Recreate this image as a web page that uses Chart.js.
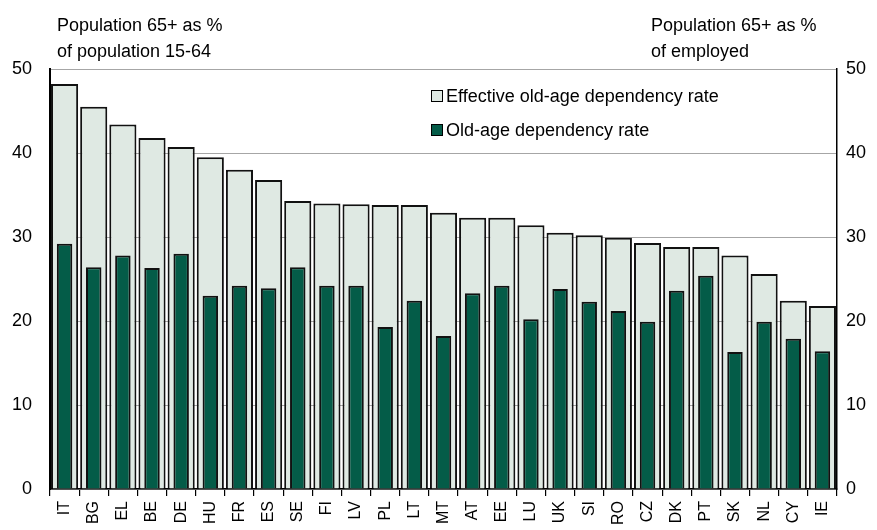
<!DOCTYPE html>
<html>
<head>
<meta charset="utf-8">
<script src="https://cdn.jsdelivr.net/npm/chart.js@4/dist/chart.umd.min.js"></script>
<style>
  body { margin: 0; background: #fff; }
  #wrap { position: relative; width: 877px; height: 530px; font-family: "Liberation Sans", Arial, sans-serif; color: #000; }
  .title { position: absolute; font-size: 18px; line-height: 26px; white-space: nowrap; }
  .leg { position: absolute; font-size: 18px; line-height: 20px; white-space: nowrap; }
  .leg span { display: inline-block; width: 10px; height: 10px; border: 1px solid #000; margin-right: 3px; vertical-align: 0px; }
</style>
</head>
<body>
<div id="wrap">
  <canvas id="c" width="877" height="530"></canvas>
  <div class="title" style="left:57px; top:12px;">Population 65+ as %<br>of population 15-64</div>
  <div class="title" style="left:651px; top:12px;">Population 65+ as %<br>of employed</div>
  <div class="leg" style="left:431px; top:86px;"><span style="background:#dfe9e3"></span>Effective old-age dependency rate</div>
  <div class="leg" style="left:431px; top:120px;"><span style="background:#045c48"></span>Old-age dependency rate</div>
</div>
<script>
// pays
const countries = ["IT","BG","EL","BE","DE","HU","FR","ES","SE","FI","LV","PL","LT","MT","AT","EE","LU","UK","SI","RO","CZ","DK","PT","SK","NL","CY","IE"];
// 65+ en % des actifs occupés
const effectiveRate = [48.2,45.5,43.4,41.8,40.7,39.5,38.0,36.8,34.3,34.0,33.9,33.8,33.8,32.9,32.3,32.3,31.4,30.5,30.2,29.9,29.3,28.8,28.8,27.8,25.6,22.4,21.8];
// 65+ en % de la population 15-64
const oldAgeRate = [29.2,26.4,27.8,26.3,28.0,23.0,24.2,23.9,26.4,24.2,24.2,19.3,22.4,18.2,23.3,24.2,20.2,23.8,22.3,21.2,19.9,23.6,25.4,16.3,19.9,17.9,16.4];
const yTicks = [0,10,20,30,40,50];

const font = { family: "'Liberation Sans', Arial, sans-serif", size: 18 };

new Chart(document.getElementById("c"), {
  type: "bar",
  data: {
    labels: countries,
    datasets: [
      {
        label: "Effective old-age dependency rate",
        data: effectiveRate,
        backgroundColor: "#dfe9e3",
        borderColor: "#111",
        borderWidth: 2,
        barPercentage: 0.93,
        categoryPercentage: 1,
        grouped: false,
        order: 1
      },
      {
        label: "Old-age dependency rate",
        data: oldAgeRate,
        backgroundColor: "#045c48",
        borderColor: "#111",
        borderWidth: 2,
        barPercentage: 0.53,
        categoryPercentage: 1,
        grouped: false,
        order: 0
      }
    ]
  },
  options: {
    responsive: false,
    animation: false,
    layout: { padding: { top: 69, left: 0, right: 0, bottom: 0 } },
    plugins: { legend: { display: false }, tooltip: { enabled: false } },
    scales: {
      x: {
        offset: true,
        grid: { offset: true, drawOnChartArea: false, drawTicks: true, tickLength: 7, color: "#000", lineWidth: 1.2 },
        border: { color: "#000", width: 1.5 },
        ticks: { autoSkip: false, minRotation: 90, maxRotation: 90, color: "#000", padding: 5, font: { family: font.family, size: 16 } },
        afterFit: s => { s.height = 41; }
      },
      y: {
        position: "left",
        min: 0, max: 50,
        afterBuildTicks: s => { s.ticks = yTicks.map(v => ({ value: v })); },
        grid: { color: "#a6a6a6", lineWidth: 1, drawTicks: false },
        border: { color: "#000", width: 2 },
        ticks: { color: "#000", padding: 18, font: font },
        afterFit: s => { s.width = 50; }
      },
      y2: {
        position: "right",
        min: 0, max: 50,
        afterBuildTicks: s => { s.ticks = yTicks.map(v => ({ value: v })); },
        grid: { drawOnChartArea: false, drawTicks: false },
        border: { color: "#000", width: 1.5 },
        ticks: { color: "#000", padding: 9, font: font },
        afterFit: s => { s.width = 40; }
      }
    }
  }
});
</script>
</body>
</html>
